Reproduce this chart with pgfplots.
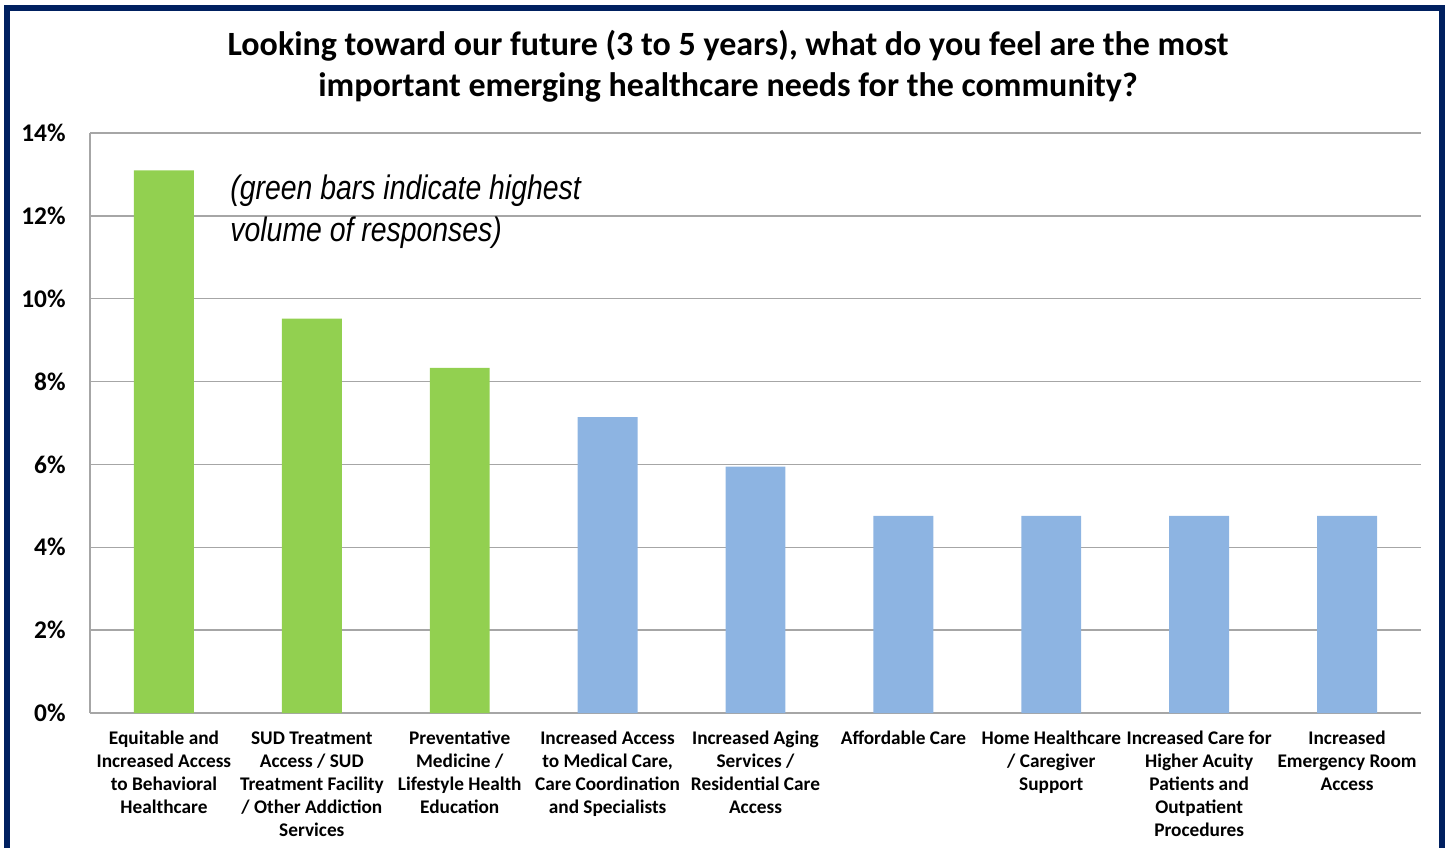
\documentclass[border=0pt]{standalone}
\usepackage{pgfplots}
\pgfplotsset{compat=1.18}
\usepackage{fontspec}
\setmainfont{Carlito}
\newfontfamily\narrowfont[FakeStretch=0.835]{Liberation Sans}
\definecolor{navyb}{HTML}{002060}
\definecolor{gbar}{RGB}{146,208,80}
\definecolor{bbar}{RGB}{141,180,226}
\definecolor{gridc}{RGB}{166,166,166}
\begin{document}
\begin{tikzpicture}
\useasboundingbox (0,0) rectangle (722.5pt,423.5pt);
\draw[navyb, line width=3pt] (3.5pt,-20pt) -- (3.5pt,419.5pt) -- (720.75pt,419.5pt) -- (720.75pt,-20pt);
\node[anchor=base, font=\fontsize{17}{20}\selectfont\bfseries] at (364pt,395.5pt) {Looking toward our future (3 to 5 years), what do you feel are the most};
\node[anchor=base, font=\fontsize{17}{20}\selectfont\bfseries] at (364pt,375pt) {important emerging healthcare needs for the community?};
\begin{axis}[
  at={(45pt,67pt)}, anchor=south west,
  scale only axis, width=665.5pt, height=290pt,
  xmin=-0.5, xmax=8.5, ymin=0, ymax=14,
  ytick={0,2,4,6,8,10,12,14},
  yticklabels={0\%,2\%,4\%,6\%,8\%,10\%,12\%,14\%},
  xtick={0,1,2,3,4,5,6,7,8},
  xticklabels={{Equitable and\\Increased Access\\to Behavioral\\Healthcare},
    {SUD Treatment\\Access / SUD\\Treatment Facility\\/ Other Addiction\\Services},
    {Preventative\\Medicine /\\Lifestyle Health\\Education},
    {Increased Access\\to Medical Care,\\Care Coordination\\and Specialists},
    {Increased Aging\\Services /\\Residential Care\\Access},
    {Affordable Care},
    {Home Healthcare\\/ Caregiver\\Support},
    {Increased Care for\\Higher Acuity\\Patients and\\Outpatient\\Procedures},
    {Increased\\Emergency Room\\Access}},
  xticklabel style={align=center, anchor=north, inner sep=0pt, yshift=-9pt,
    font=\fontsize{9.65}{11.5}\selectfont\bfseries},
  yticklabel style={font=\fontsize{12.7}{15}\selectfont\bfseries, anchor=east, inner sep=0pt, xshift=-12pt},
  major tick length=0pt,
  axis lines*=left,
  axis line style={-, draw=gridc, line width=0.8pt},
  ymajorgrids, grid style={draw=gridc, line width=0.7pt},
  ybar, bar width=0.405, 
  clip=false,
]
\addplot[fill=gbar, draw=none, bar shift=0pt] coordinates {(0,13.10) (1,9.52) (2,8.33)};
\addplot[fill=bbar, draw=none, bar shift=0pt] coordinates {(3,7.14) (4,5.95) (5,4.76) (6,4.76) (7,4.76) (8,4.76)};
\node[anchor=base west, inner sep=0pt, align=left, font=\narrowfont\itshape\fontsize{17}{21}\selectfont] at (axis cs:0.447,11.37) {(green bars indicate highest\\volume of responses)};
\end{axis}
\end{tikzpicture}
\end{document}
